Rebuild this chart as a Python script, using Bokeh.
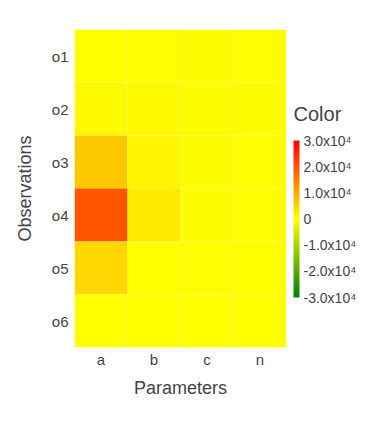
from bokeh.plotting import figure
from bokeh.models import (ColumnDataSource, LinearColorMapper, ColorBar, FixedTicker,
                          FactorRange)
from bokeh.layouts import row
from bokeh.embed import file_html
from bokeh.resources import INLINE

params = ["a", "b", "c", "n"]
obs = ["o1", "o2", "o3", "o4", "o5", "o6"]
row_o1 = [200, 300, 500, 300]
row_o2 = [900, 800, 700, 600]
row_o3 = [6500, 1200, 500, 400]
row_o4 = [20000, 2400, 600, 400]
row_o5 = [4800, 200, 400, 200]
row_o6 = [100, 100, 100, 100]
rows = [row_o1, row_o2, row_o3, row_o4, row_o5, row_o6]
cbar_title = "Color"
cbar_ticks = [-30000, -20000, -10000, 0, 10000, 20000, 30000]
cbar_labels = ["-3.0x10⁴", "-2.0x10⁴", "-1.0x10⁴", "0", "1.0x10⁴", "2.0x10⁴", "3.0x10⁴"]

xs, ys, zs = [], [], []
for o, r in zip(obs, rows):
    for prm, v in zip(params, r):
        xs.append(prm); ys.append(o); zs.append(v)
src = ColumnDataSource(dict(x=xs, y=ys, z=zs))

# green -> yellow -> red palette
def hexc(r, g, b):
    return "#%02x%02x%02x" % (int(round(r)), int(round(g)), int(round(b)))
palette = []
n = 128
for i in range(n):
    t = i / (n - 1)
    palette.append(hexc(255 * t, 128 + 127 * t, 0))
for i in range(n):
    t = i / (n - 1)
    palette.append(hexc(255, 255 * (1 - t), 0))

mapper = LinearColorMapper(palette=palette, low=-30000, high=30000)

FONT = "Liberation Sans"
TXT = "#444444"
H = 432
TOP, BOT = 29, 85
FH = H - TOP - BOT
p = figure(width=286, height=H, output_backend="svg", toolbar_location=None,
           x_range=FactorRange(*params), y_range=FactorRange(*reversed(obs)),
           min_border_left=74, min_border_right=0, min_border_top=TOP, min_border_bottom=BOT)
p.rect(x="x", y="y", width=1, height=1, source=src,
       fill_color={"field": "z", "transform": mapper}, line_color=None)

p.outline_line_color = None
p.grid.grid_line_color = None
for ax in (p.xaxis, p.yaxis):
    ax.axis_line_color = None
    ax.major_tick_line_color = None
    ax.minor_tick_line_color = None
    ax.major_tick_out = 0
    ax.major_tick_in = 0
    ax.major_label_text_font = FONT
    ax.major_label_text_font_size = "15px"
    ax.major_label_text_color = TXT
    ax.axis_label_text_font = FONT
    ax.axis_label_text_font_size = "18px"
    ax.axis_label_text_color = TXT
    ax.axis_label_text_font_style = "normal"
p.xaxis.axis_label = "Parameters"
p.yaxis.axis_label = "Observations"
p.xaxis.major_label_standoff = 3
p.yaxis.major_label_standoff = 6
p.xaxis.axis_label_standoff = 7
p.yaxis.axis_label_standoff = 14

# side panel holding the colour bar and its title (frame aligned with main frame)
W2 = 98
p2 = figure(width=W2, height=H, output_backend="svg", toolbar_location=None,
            x_range=(0, W2), y_range=(0, FH),
            min_border_left=0, min_border_right=0, min_border_top=TOP, min_border_bottom=BOT)
p2.axis.visible = False
p2.grid.grid_line_color = None
p2.outline_line_color = None
p2.text(x=[7], y=[H - BOT - 113], text=[cbar_title], text_baseline="middle", text_align="left",
        text_font={"value": FONT}, text_font_size="20px", text_color=TXT)

cb = ColorBar(color_mapper=mapper, width=6, height=157,
              ticker=FixedTicker(ticks=cbar_ticks),
              major_label_overrides={t: l for t, l in zip(cbar_ticks, cbar_labels)},
              major_label_text_font=FONT, major_label_text_font_size="14px",
              major_label_text_color=TXT, label_standoff=4,
              major_tick_line_color=None, bar_line_color=None,
              background_fill_alpha=0, border_line_color=None,
              padding=0, margin=0, location=(7, H - BOT - 297))
p2.add_layout(cb, "center")

layout = row(p, p2, spacing=0)
open("out.html", "w").write(file_html(layout, INLINE))
